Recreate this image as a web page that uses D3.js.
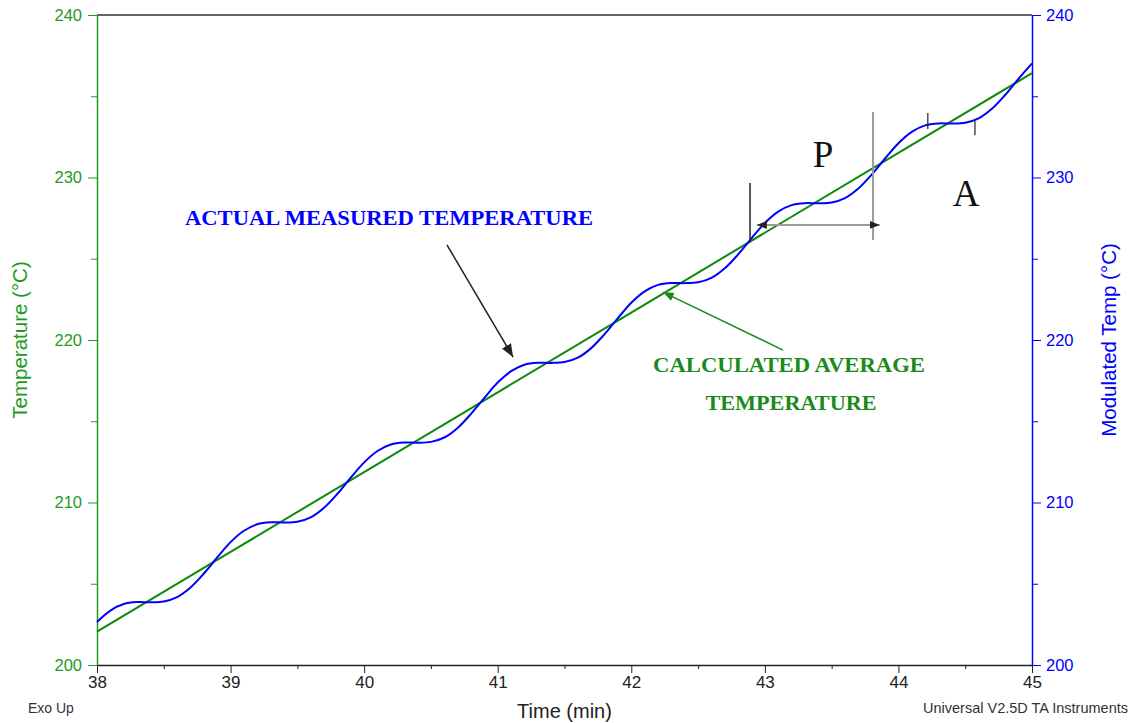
<!DOCTYPE html>
<html>
<head>
<meta charset="utf-8">
<script src="https://cdn.jsdelivr.net/npm/d3@7"></script>
<style>
  body { margin: 0; background: #fff; }
  svg { font-family: "Liberation Sans", Arial, sans-serif; }
</style>
</head>
<body>
<svg width="1135" height="723"></svg>
<script>
// Data
// time (min) and the calculated average temperature
var avgTime = [38, 39, 40, 41, 42, 43, 44, 45];
var avgTemp = [202.05, 206.96, 211.87, 216.78, 221.69, 226.60, 231.51, 236.42];

// actual measured (modulated) temperature, every 0.1 min from 38 to 45
var modTime = d3.range(0, 71).map(function (i) { return 38 + i / 10; });
var modTemp = [
  202.65, 203.35, 203.75, 203.87, 203.86, 203.91, 204.18, 204.77, 205.63, 206.62,
  207.56, 208.26, 208.66, 208.78, 208.77, 208.82, 209.09, 209.68, 210.54, 211.53,
  212.47, 213.17, 213.57, 213.69, 213.68, 213.73, 214.00, 214.59, 215.45, 216.44,
  217.38, 218.08, 218.48, 218.60, 218.59, 218.64, 218.91, 219.50, 220.36, 221.35,
  222.29, 222.99, 223.39, 223.51, 223.50, 223.55, 223.82, 224.41, 225.27, 226.26,
  227.20, 227.90, 228.30, 228.42, 228.41, 228.46, 228.73, 229.32, 230.18, 231.17,
  232.11, 232.81, 233.21, 233.33, 233.32, 233.37, 233.64, 234.23, 235.09, 236.08,
  237.02
];

var xTicks = [38, 39, 40, 41, 42, 43, 44, 45];
var yTicks = [200, 210, 220, 230, 240];

var green = "#0a8a0a", axisGreen = "#1f9a1f", blue = "#0000ff";

var svg = d3.select("svg");
var margin = { left: 97, top: 15, right: 103, bottom: 58 };
var width = 1135 - margin.left - margin.right,
    height = 723 - margin.top - margin.bottom;

var x = d3.scaleLinear().domain([38, 45]).range([margin.left, margin.left + width]);
var y = d3.scaleLinear().domain([200, 240]).range([margin.top + height, margin.top]);
var y2 = d3.scaleLinear().domain([200, 240]).range([margin.top + height, margin.top]);

// top border
svg.append("line")
    .attr("x1", x(38)).attr("x2", x(45))
    .attr("y1", y(240)).attr("y2", y(240))
    .attr("stroke", "#333").attr("stroke-width", 1.5);

// bottom axis (minor then major)
svg.append("g")
    .attr("transform", "translate(0," + y(200) + ")")
    .call(d3.axisBottom(x).tickValues(d3.range(38.5, 45, 1)).tickSize(4).tickFormat(""))
    .call(function (g) { g.select(".domain").remove(); g.selectAll("line").attr("stroke", "#222"); });
var xAxis = svg.append("g")
    .attr("transform", "translate(0," + y(200) + ")")
    .call(d3.axisBottom(x).tickValues(xTicks).tickSize(8).tickPadding(3).tickSizeOuter(0).tickFormat(d3.format("d")));
xAxis.select(".domain").attr("stroke", "#222").attr("stroke-width", 1.5);
xAxis.selectAll("line").attr("stroke", "#222");
xAxis.selectAll("text").attr("font-size", 17).attr("fill", "#222").attr("font-family", "Liberation Sans, Arial");

// left axis
svg.append("g")
    .attr("transform", "translate(" + x(38) + ",0)")
    .call(d3.axisLeft(y).tickValues(d3.range(205, 240, 10)).tickSize(6).tickFormat(""))
    .call(function (g) { g.select(".domain").remove(); g.selectAll("line").attr("stroke", axisGreen); });
var yAxis = svg.append("g")
    .attr("transform", "translate(" + x(38) + ",0)")
    .call(d3.axisLeft(y).tickValues(yTicks).tickSize(9).tickPadding(6).tickSizeOuter(0));
yAxis.select(".domain").attr("stroke", axisGreen).attr("stroke-width", 1.5);
yAxis.selectAll("line").attr("stroke", axisGreen);
yAxis.selectAll("text").attr("font-size", 16.5).attr("fill", axisGreen).attr("font-family", "Liberation Sans, Arial");

// right axis
svg.append("g")
    .attr("transform", "translate(" + x(45) + ",0)")
    .call(d3.axisRight(y2).tickValues(d3.range(205, 240, 10)).tickSize(6).tickFormat(""))
    .call(function (g) { g.select(".domain").remove(); g.selectAll("line").attr("stroke", blue); });
var y2Axis = svg.append("g")
    .attr("transform", "translate(" + x(45) + ",0)")
    .call(d3.axisRight(y2).tickValues(yTicks).tickSize(9).tickPadding(5).tickSizeOuter(0));
y2Axis.select(".domain").attr("stroke", blue).attr("stroke-width", 1.5);
y2Axis.selectAll("line").attr("stroke", blue);
y2Axis.selectAll("text").attr("font-size", 16.5).attr("fill", blue).attr("font-family", "Liberation Sans, Arial");

// axis titles
svg.append("text")
    .attr("transform", "translate(27," + (margin.top + height / 2) + ") rotate(-90)")
    .attr("text-anchor", "middle").attr("font-size", 20.5).attr("fill", axisGreen)
    .text("Temperature (°C)");
svg.append("text")
    .attr("transform", "translate(1116," + (margin.top + height / 2) + ") rotate(-90)")
    .attr("text-anchor", "middle").attr("font-size", 20.5).attr("fill", blue)
    .text("Modulated Temp (°C)");
svg.append("text")
    .attr("x", margin.left + width / 2).attr("y", 718)
    .attr("text-anchor", "middle").attr("font-size", 20).attr("fill", "#222")
    .text("Time (min)");
svg.append("text")
    .attr("x", 28).attr("y", 713).attr("font-size", 14).attr("fill", "#333")
    .text("Exo Up");
svg.append("text")
    .attr("x", 1128).attr("y", 713).attr("text-anchor", "end").attr("font-size", 14.5).attr("fill", "#333")
    .text("Universal V2.5D TA Instruments");

// lines
var avgLine = d3.line()
    .x(function (d, i) { return x(avgTime[i]); })
    .y(function (d) { return y(d); });
svg.append("path")
    .attr("d", avgLine(avgTemp))
    .attr("fill", "none").attr("stroke", green).attr("stroke-width", 2);

var modLine = d3.line()
    .curve(d3.curveCatmullRom)
    .x(function (d, i) { return x(modTime[i]); })
    .y(function (d) { return y2(d); });
svg.append("path")
    .attr("d", modLine(modTemp))
    .attr("fill", "none").attr("stroke", blue).attr("stroke-width", 2);

// markers
var defs = svg.append("defs");
function marker(id, color, size) {
  defs.append("marker")
      .attr("id", id).attr("viewBox", "0 0 10 10")
      .attr("refX", 10).attr("refY", 5)
      .attr("markerWidth", size).attr("markerHeight", size)
      .attr("markerUnits", "userSpaceOnUse")
      .attr("orient", "auto-start-reverse")
      .append("path").attr("d", "M0,1L10,5L0,9Z").attr("fill", color);
}
marker("arrowBlack", "#222", 13);
marker("arrowGreen", "#1a8a1a", 11);
marker("arrowGray", "#222", 10);

// annotations
svg.append("text")
    .attr("x", 185).attr("y", 225)
    .attr("font-family", "Liberation Serif, Times New Roman, serif")
    .attr("font-weight", "bold").attr("font-size", 20).attr("fill", blue)
    .attr("textLength", 408).attr("lengthAdjust", "spacingAndGlyphs")
    .text("ACTUAL MEASURED TEMPERATURE");
svg.append("line")
    .attr("x1", x(40.62)).attr("y1", y(225.85))
    .attr("x2", x(41.115)).attr("y2", y(218.95))
    .attr("stroke", "#222").attr("stroke-width", 1.5)
    .attr("marker-end", "url(#arrowBlack)");

svg.append("line")
    .attr("x1", x(43.136)).attr("y1", y(219.38))
    .attr("x2", x(42.237)).attr("y2", y(222.95))
    .attr("stroke", "#1a8a1a").attr("stroke-width", 1.5)
    .attr("marker-end", "url(#arrowGreen)");
svg.append("text")
    .attr("x", 789).attr("y", 372).attr("text-anchor", "middle")
    .attr("font-family", "Liberation Serif, Times New Roman, serif")
    .attr("font-weight", "bold").attr("font-size", 20).attr("fill", "#1a8a1a")
    .attr("textLength", 272).attr("lengthAdjust", "spacingAndGlyphs")
    .text("CALCULATED AVERAGE");
svg.append("text")
    .attr("x", 791).attr("y", 410).attr("text-anchor", "middle")
    .attr("font-family", "Liberation Serif, Times New Roman, serif")
    .attr("font-weight", "bold").attr("font-size", 20).attr("fill", "#1a8a1a")
    .attr("textLength", 171).attr("lengthAdjust", "spacingAndGlyphs")
    .text("TEMPERATURE");

// period P
svg.append("line")
    .attr("x1", x(42.889)).attr("x2", x(42.889))
    .attr("y1", y(229.66)).attr("y2", y(226.0))
    .attr("stroke", "#222").attr("stroke-width", 1.5);
svg.append("line")
    .attr("x1", x(43.81)).attr("x2", x(43.81))
    .attr("y1", y(234.03)).attr("y2", y(226.15))
    .attr("stroke", "#9a9a9a").attr("stroke-width", 2);
svg.append("line")
    .attr("x1", x(42.94)).attr("x2", x(43.86))
    .attr("y1", y(227.08)).attr("y2", y(227.08))
    .attr("stroke", "#9a9a9a").attr("stroke-width", 2)
    .attr("marker-start", "url(#arrowGray)").attr("marker-end", "url(#arrowGray)");
svg.append("text")
    .attr("x", 823).attr("y", 167).attr("text-anchor", "middle")
    .attr("font-family", "Liberation Serif, Times New Roman, serif")
    .attr("font-size", 37).attr("fill", "#111")
    .text("P");

// amplitude A
svg.append("line")
    .attr("x1", x(44.22)).attr("x2", x(44.22))
    .attr("y1", y(233.97)).attr("y2", y(232.98))
    .attr("stroke", "#222").attr("stroke-width", 1.2);
svg.append("line")
    .attr("x1", x(44.573)).attr("x2", x(44.573))
    .attr("y1", y(233.6)).attr("y2", y(232.6))
    .attr("stroke", "#222").attr("stroke-width", 1.2);
svg.append("text")
    .attr("x", 966).attr("y", 206).attr("text-anchor", "middle")
    .attr("font-family", "Liberation Serif, Times New Roman, serif")
    .attr("font-size", 37).attr("fill", "#111")
    .text("A");
</script>
</body>
</html>
